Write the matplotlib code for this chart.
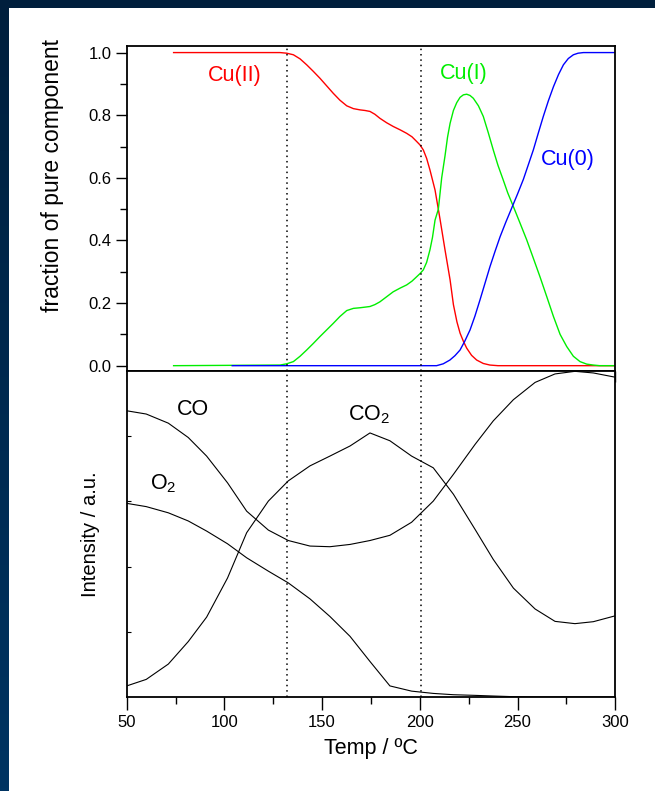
import numpy as np
import matplotlib.pyplot as plt
from matplotlib.colors import LinearSegmentedColormap
from matplotlib.ticker import MultipleLocator, NullFormatter

plt.rcParams['font.family'] = ['Liberation Sans', 'DejaVu Sans']
plt.rcParams['mathtext.fontset'] = 'custom'
plt.rcParams['mathtext.rm'] = 'Liberation Sans'
plt.rcParams['mathtext.it'] = 'Liberation Sans'

# --- top panel: fraction of pure component ---
t_cu2 = [74, 128.5, 131.9, 135.3, 138.7, 142.1, 145.5, 148.9, 152.3, 155.7, 159.1, 162.6,
         166, 169.4, 172, 174.5, 177, 179.6, 183, 186.4, 190, 193.3, 196, 198.4, 200.1,
         201.8, 203.5, 205.2, 207.8, 210.3, 212.9, 215.5, 217.2, 219, 220.6, 222.3, 224,
         226.5, 229.1, 232.5, 235.9, 240, 300]
cu2 = [1.0, 1.0, 0.998, 0.993, 0.980, 0.961, 0.940, 0.918, 0.894, 0.870, 0.848, 0.830,
       0.821, 0.817, 0.815, 0.812, 0.803, 0.790, 0.776, 0.764, 0.753, 0.742, 0.731, 0.716, 0.705,
       0.689, 0.662, 0.625, 0.561, 0.470, 0.370, 0.274, 0.195, 0.140, 0.104, 0.078, 0.056,
       0.033, 0.018, 0.007, 0.002, 0.0, 0.0]

t_cu1 = [74, 128.5, 131.9, 135.3, 138.7, 142.1, 145.5, 148.9, 152.3, 155.7, 159.1, 162.6,
         166, 169.4, 172, 174.5, 177, 179.6, 183, 186.4, 190, 193.3, 196, 198.4, 200.1,
         201.8, 203.5, 205.2, 206.5, 207.8, 209.5, 211.2, 212.9, 214.2, 215.5, 217.2, 218.9,
         220.6, 222.3, 224, 225.7, 227.4, 230, 232.5, 235, 237.6, 240, 242.7, 245, 247.9,
         251, 254.7, 258, 261.5, 265, 268.4, 271.8, 275.2, 278.6, 282, 285.4, 288.8, 292, 300]
cu1 = [0.0, 0.002, 0.006, 0.013, 0.030, 0.050, 0.071, 0.093, 0.114, 0.135, 0.157, 0.176,
       0.183, 0.185, 0.187, 0.189, 0.195, 0.204, 0.220, 0.236, 0.248, 0.258, 0.270, 0.284, 0.294,
       0.306, 0.330, 0.370, 0.410, 0.465, 0.500, 0.600, 0.670, 0.730, 0.774, 0.815, 0.840,
       0.857, 0.865, 0.867, 0.863, 0.854, 0.830, 0.796, 0.745, 0.689, 0.640, 0.593, 0.552, 0.508,
       0.460, 0.402, 0.345, 0.284, 0.220, 0.157, 0.100, 0.061, 0.030, 0.013, 0.005, 0.002, 0.0, 0.0]

t_cu0 = [104, 208.6, 212, 215.4, 218, 220.6, 223, 225.7, 228.2, 230.8, 233.3, 235.9, 238.5,
         241.1, 244, 247, 250, 253, 255.5, 258.1, 260.6, 263.2, 265.8, 268.4, 271, 273.5,
         276, 278.6, 281, 283.7, 300]
cu0 = [0.0, 0.0, 0.006, 0.018, 0.032, 0.050, 0.078, 0.114, 0.158, 0.210, 0.262, 0.316, 0.365,
       0.412, 0.458, 0.503, 0.548, 0.595, 0.641, 0.689, 0.742, 0.796, 0.846, 0.891, 0.930, 0.961,
       0.981, 0.993, 0.998, 1.0, 1.0]

# --- bottom panel: mass spec intensities (a.u.) ---
t_ms = [50, 60, 71.3, 81.5, 90.9, 101.6, 111.4, 122.5, 132.7, 143.8, 154, 164.3, 174.5,
        184.7, 195.8, 206.9, 217.2, 228.3, 237.6, 247.9, 259, 269.2, 279.4, 288.8, 300]
co = [0.878, 0.868, 0.840, 0.796, 0.739, 0.657, 0.570, 0.512, 0.480, 0.463, 0.461, 0.468,
      0.480, 0.496, 0.536, 0.601, 0.683, 0.775, 0.847, 0.912, 0.965, 0.991, 0.999, 0.994, 0.981]
co2 = [0.034, 0.054, 0.101, 0.170, 0.245, 0.365, 0.504, 0.601, 0.663, 0.709, 0.739, 0.770,
       0.810, 0.786, 0.739, 0.703, 0.622, 0.514, 0.422, 0.334, 0.270, 0.232, 0.225, 0.231, 0.249]
o2 = [0.594, 0.584, 0.565, 0.540, 0.509, 0.470, 0.427, 0.386, 0.350, 0.301, 0.247, 0.186,
      0.109, 0.034, 0.018, 0.011, 0.007, 0.005, 0.003, 0.001, 0.0, 0.0, 0.0, 0.0, 0.0]

vlines = [132, 200.5]

fig = plt.figure(figsize=(6.55, 7.91), dpi=100)
fig.patch.set_facecolor('white')

# dark frame on top and left
frame = fig.add_axes([0, 0, 9 / 655, 1])
grad = np.linspace(0, 1, 256).reshape(-1, 1)
frame.imshow(grad, aspect='auto', extent=[0, 1, 0, 1], origin='upper',
             cmap=LinearSegmentedColormap.from_list('fr', ['#001f3d', '#003462']))
frame.axis('off')
top_band = fig.add_axes([0, 1 - 8 / 791, 1, 8 / 791])
top_band.axis('off')
top_band.add_patch(plt.Rectangle((0, 0), 1, 1, color='#001f3d', transform=top_band.transAxes))

left, width = 126.7 / 655, (615.2 - 126.7) / 655
ax1 = fig.add_axes([left, 1 - 371 / 791, width, 325 / 791])
ax2 = fig.add_axes([left, 1 - 697 / 791, width, 326 / 791])

ax1.plot(t_cu2, cu2, color='red', lw=1.0)
ax1.plot(t_cu1, cu1, color='#00ee00', lw=1.0)
ax1.plot(t_cu0, cu0, color='blue', lw=1.0)
ax1.set_xlim(50, 300)
ax1.set_ylim(-0.017, 1.021)
ax1.set_ylabel('fraction of pure component', fontsize=16.5)
ax1.yaxis.set_label_coords(-0.128, 0.6)
ax1.yaxis.set_minor_locator(MultipleLocator(0.1))
ax1.set_yticks(np.arange(0, 1.01, 0.2))
ax1.set_yticklabels(['0.0', '0.2', '0.4', '0.6', '0.8', '1.0'])
ax1.xaxis.set_major_locator(MultipleLocator(25))
ax1.xaxis.set_major_formatter(NullFormatter())
ax1.tick_params(axis='y', which='major', direction='out', length=8, width=1, labelsize=12, pad=3)
ax1.tick_params(axis='y', which='minor', direction='out', length=5, width=1)
ax1.tick_params(axis='x', which='major', direction='out', length=8, width=1)
ax1.text(105.3, 0.927, 'Cu(II)', color='red', fontsize=15.5, ha='center', va='center')
ax1.text(222.5, 0.932, 'Cu(I)', color='#00ee00', fontsize=15.5, ha='center', va='center')
ax1.text(276, 0.659, 'Cu(0)', color='blue', fontsize=15.5, ha='center', va='center')

ax2.plot(t_ms, co, color='black', lw=0.8)
ax2.plot(t_ms, co2, color='black', lw=0.8)
ax2.plot(t_ms, o2, color='black', lw=0.8)
ax2.set_xlim(50, 300)
ax2.set_ylim(0, 1.0)
ax2.set_xticks([50, 100, 150, 200, 250, 300])
ax2.xaxis.set_minor_locator(MultipleLocator(25))
ax2.set_yticks([0.2, 0.4, 0.6, 0.8])
ax2.set_yticklabels([])
ax2.tick_params(axis='x', which='major', direction='out', length=9, width=1, labelsize=12, pad=4)
ax2.tick_params(axis='x', which='minor', direction='out', length=5, width=1)
ax2.tick_params(axis='y', which='major', direction='in', length=3, width=0.8)
ax2.set_xlabel('Temp / ºC', fontsize=15.5, labelpad=6)
ax2.set_ylabel('Intensity / a.u.', fontsize=14.5, labelpad=16)
ax2.text(75.6, 0.865, 'CO', fontsize=15.5, ha='left', va='baseline')
ax2.text(163.4, 0.847, 'CO$_2$', fontsize=15.5, ha='left', va='baseline')
ax2.text(62, 0.637, 'O$_2$', fontsize=15.5, ha='left', va='baseline')

for ax in (ax1, ax2):
    for sp in ax.spines.values():
        sp.set_linewidth(1.3)
    for xv in vlines:
        ax.axvline(xv, color='black', lw=1.1, linestyle=(0, (1, 2.5)))

fig.savefig('out.png', dpi=100, facecolor='white')
